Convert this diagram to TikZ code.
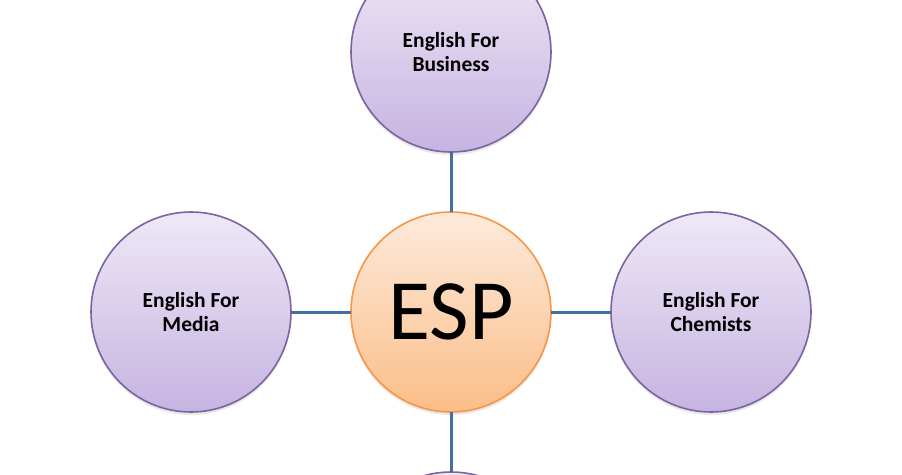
\documentclass[tikz,border=0pt]{standalone}
\usepackage{fontspec}
\setmainfont{Carlito}
\usepackage{xcolor}
\usepackage{tikz}
\usetikzlibrary{positioning, shadows}

\definecolor{lilacTop}{HTML}{EEE8F6}
\definecolor{lilacBot}{HTML}{C6B4E1}
\definecolor{lilacLine}{HTML}{7F62A1}
\definecolor{peachTop}{HTML}{FDEADB}
\definecolor{peachBot}{HTML}{FBBE88}
\definecolor{peachLine}{HTML}{F79646}
\definecolor{linkBlue}{HTML}{41719C}

\begin{document}
\begin{tikzpicture}[
  x=1pt, y=-1pt,
  node distance=60pt,
  topic/.style={circle, minimum size=200pt, inner sep=0pt, outer sep=0pt,
                line width=1.6pt, draw=lilacLine, top color=lilacTop,
                bottom color=lilacBot, align=center,
                font=\fontsize{21.5}{24}\selectfont\bfseries,
                drop shadow={opacity=0.18, shadow xshift=0pt, shadow yshift=-3pt}},
  hub/.style={topic, draw=peachLine, top color=peachTop, bottom color=peachBot,
              font=\fontsize{86}{90}\selectfont},
  link/.style={line width=3pt, draw=linkBlue},
]
\useasboundingbox (0,0) rectangle (902,474);

\node[hub] (esp) at (451,312) {ESP};
\node[topic, above=of esp] (business) {English For\\Business};
\node[topic, left=of esp] (media) {English For\\Media};
\node[topic, right=of esp] (chem) {English For\\Chemists};
\node[topic, below=of esp] (more) {};

\draw[link] (esp) -- (business);
\draw[link] (esp) -- (media);
\draw[link] (esp) -- (chem);
\draw[link] (esp) -- (more);
\end{tikzpicture}
\end{document}
